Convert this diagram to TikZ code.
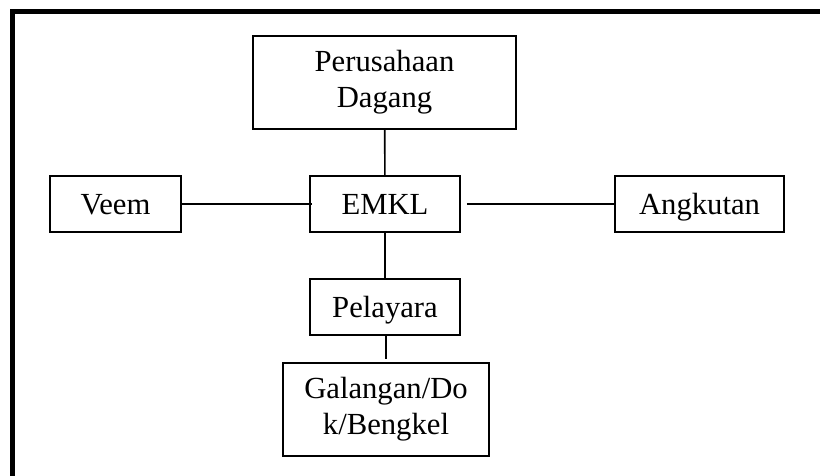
\documentclass[tikz,border=0pt]{standalone}
\usepackage{fontspec}
\setmainfont{Liberation Serif}
\usepackage{tikz}

\tikzset{%
  unit/.style={draw, line width=1.2pt, align=center, inner sep=0pt,
    font=\fontsize{23}{27}\selectfont},%
  oneline/.style={unit, text depth=0pt, minimum height=42pt},%
  link/.style={line width=1.2pt}%
}

\begin{document}
\begin{tikzpicture}[x=0.75pt, y=-0.75pt]
  \useasboundingbox (0,0) rectangle (820,475);
  \clip (0,0) rectangle (820,475);

  % frame
  \draw[line width=3.75pt] (12.5,480) -- (12.5,11) -- (825,11);

  \node[unit, minimum width=197.25pt, minimum height=69.75pt] (dagang)   at (384.5, 82.5) {Perusahaan\\Dagang};
  \node[oneline, minimum width=112.5pt]  (emkl)     at (385,204)    {EMKL};
  \node[oneline, minimum width=98.25pt]  (veem)     at (115.5,204)  {Veem};
  \node[oneline, minimum width=126.75pt] (angkutan) at (699.5,204)  {Angkutan};
  \node[oneline, minimum width=112.5pt]  (pelayara) at (385,307)    {Pelayara};
  \node[unit, minimum width=154.5pt, minimum height=69.75pt] (galangan) at (386,409.5)  {Galangan/Do\\k/Bengkel};

  \draw[link] (dagang) -- (emkl);
  \draw[link] (veem) -- ([xshift=2.25pt]emkl.west);
  \draw[link] ([xshift=4.5pt]emkl.east) -- (angkutan);
  \draw[link] (emkl) -- (pelayara);
  \draw[link] (pelayara.south -| galangan.north) -- ([yshift=2.25pt]galangan.north);

\end{tikzpicture}
\end{document}
